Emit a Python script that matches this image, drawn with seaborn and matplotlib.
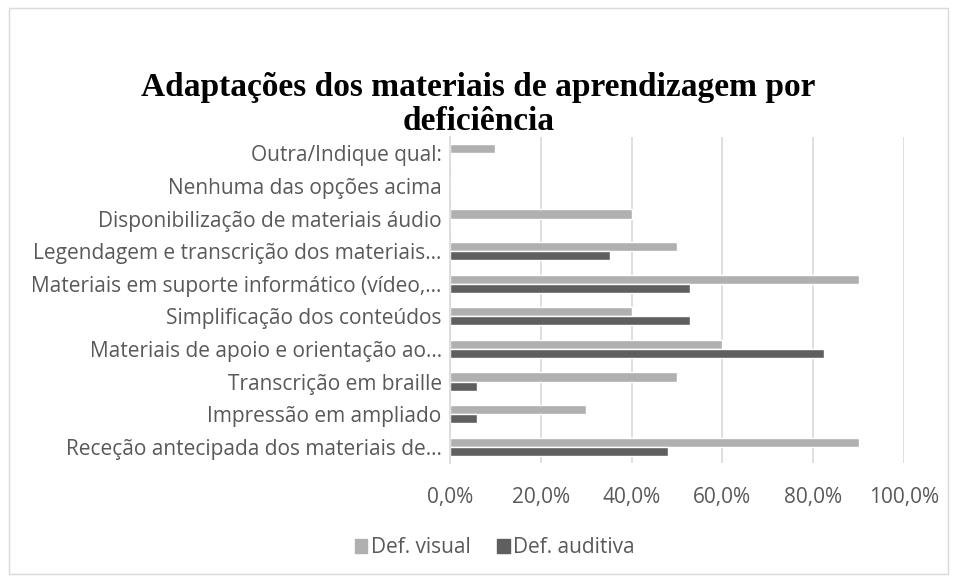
import matplotlib.pyplot as plt
import matplotlib.patches as mpatches
import matplotlib.ticker as mticker
import seaborn as sns
import pandas as pd

categories = [
    "Outra/Indique qual:",
    "Nenhuma das opções acima",
    "Disponibilização de materiais áudio",
    "Legendagem e transcrição dos materiais…",
    "Materiais em suporte informático (vídeo,…",
    "Simplificação dos conteúdos",
    "Materiais de apoio e orientação ao…",
    "Transcrição em braille",
    "Impressão em ampliado",
    "Receção antecipada dos materiais de…",
]
def_visual = [10.0, 0.0, 40.0, 50.0, 90.0, 40.0, 60.0, 50.0, 30.0, 90.0]
def_auditiva = [0.0, 0.0, 0.0, 35.3, 52.9, 52.9, 82.4, 5.9, 5.9, 48.1]
series = ["Def. visual", "Def. auditiva"]
colors = ["#b0b0b0", "#5f5f5f"]

df = pd.DataFrame({
    "categoria": categories * 2,
    "valor": def_visual + def_auditiva,
    "serie": [series[0]] * len(categories) + [series[1]] * len(categories),
})

sns.set_style("white")
plt.rcParams["font.family"] = ["Open Sans", "DejaVu Sans"]
text_color = "#595959"

fig = plt.figure(figsize=(9.57, 5.81), dpi=100)
ax = fig.add_axes([0.4702, 0.2031, 0.4744, 0.561])

sns.barplot(data=df, y="categoria", x="valor", hue="serie", order=categories,
            hue_order=series, palette=colors, width=0.56, orient="h",
            saturation=1, legend=False, ax=ax)

ax.set_xlim(0, 100)
ax.set_xticks([0, 20, 40, 60, 80, 100])
ax.xaxis.set_major_formatter(mticker.FuncFormatter(lambda v, p: f"{v:.1f}%".replace(".", ",")))
ax.set_xlabel("")
ax.set_ylabel("")
ax.grid(axis="x", color="#d9d9d9", linewidth=1.2)
ax.set_axisbelow(True)
for s in ["top", "right", "bottom"]:
    ax.spines[s].set_visible(False)
ax.spines["left"].set_color("#d9d9d9")
ax.spines["left"].set_linewidth(1.2)
ax.tick_params(axis="both", length=0, labelsize=15, colors=text_color)
ax.tick_params(axis="y", pad=6)
ax.tick_params(axis="x", pad=17)

fig.text(0.5, 0.82, "Adaptações dos materiais de aprendizagem por\ndeficiência",
         ha="center", va="center", fontsize=24, fontweight="bold",
         family="Liberation Serif", color="black", linespacing=1.12)

handles = [mpatches.Patch(color=c, label=s) for c, s in zip(colors, series)]
fig.legend(handles=handles, loc="center", bbox_to_anchor=(0.517, 0.057), ncol=2,
           frameon=False, fontsize=15, handlelength=0.6, handleheight=0.6,
           handletextpad=0.15, columnspacing=1.3, labelcolor=text_color)

fig.patches.append(mpatches.Rectangle((0.009, 0.012), 0.982, 0.975, transform=fig.transFigure,
                                      fill=False, edgecolor="#d9d9d9", linewidth=1))

fig.savefig("out.png", dpi=100)
